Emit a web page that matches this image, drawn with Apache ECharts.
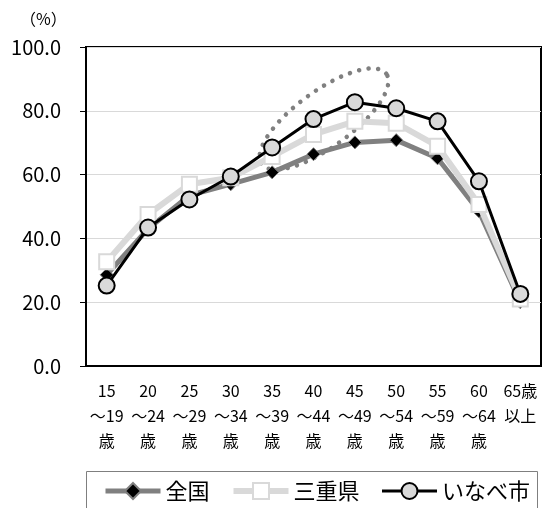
<!DOCTYPE html>
<html><head><meta charset="utf-8">
<script src="https://cdn.jsdelivr.net/npm/echarts@6/dist/echarts.min.js"></script>
<style>html,body{margin:0;padding:0;background:#fff}#c{width:546px;height:508px}</style>
</head><body><div id="c"></div>
<script>
var categories = ['15\n〜19\n歳','20\n〜24\n歳','25\n〜29\n歳','30\n〜34\n歳','35\n〜39\n歳','40\n〜44\n歳','45\n〜49\n歳','50\n〜54\n歳','55\n〜59\n歳','60\n〜64\n歳','65歳\n以上'];
var zenkoku = [28.6, 43.0, 53.5, 57.0, 60.7, 66.4, 70.1, 70.8, 65.1, 48.5, 20.0];
var mie     = [32.7, 47.5, 57.0, 59.0, 65.7, 72.6, 76.7, 76.1, 68.9, 50.6, 21.0];
var inabe   = [25.2, 43.4, 52.2, 59.4, 68.5, 77.4, 82.7, 80.8, 76.7, 57.9, 22.6];
var yTicks = [0, 20, 40, 60, 80, 100];

var FONT = '"Noto Sans CJK JP", sans-serif';
// dotted annotation ellipse (decoration)
var ell = [];
(function(){
  var cx = 324, cy = 119, rx = 77, ry = 28, th = 36 * Math.PI / 180;
  for (var i = 0; i < 72; i++) {
    var t = i / 72 * Math.PI * 2;
    var a = rx * Math.cos(t), b = ry * Math.sin(t);
    ell.push([cx + a * Math.cos(th) - b * Math.sin(th), cy - (a * Math.sin(th) + b * Math.cos(th))]);
  }
})();

var chart = echarts.init(document.getElementById('c'));
chart.setOption({
  animation: false,
  textStyle: {fontFamily: FONT},
  title: {text: '（%）', left: 15, top: 6, textStyle: {fontSize: 16, fontWeight: 'normal', color: '#000', fontFamily: '"Noto Sans CJK JP"'}},
  grid: {left: 86, right: 5, top: 47, bottom: 142, show: true, borderColor: '#000', borderWidth: 2},
  xAxis: {
    type: 'category', data: categories, boundaryGap: true,
    axisLine: {lineStyle: {color: '#000', width: 2}},
    axisTick: {inside: true, length: 5, lineStyle: {color: '#808080'}},
    axisLabel: {fontSize: 16, lineHeight: 25, color: '#000', margin: 12, interval: 0, fontFamily: FONT}
  },
  yAxis: {
    type: 'value', min: 0, max: 100, interval: 20,
    axisLine: {show: true, lineStyle: {color: '#000', width: 2}},
    axisTick: {show: true, length: 6, lineStyle: {color: '#000'}},
    splitLine: {lineStyle: {color: '#d9d9d9', width: 1}},
    axisLabel: {fontSize: 20, color: '#000', margin: 25, fontFamily: FONT,
      formatter: function(v){ return yTicks.indexOf(v) >= 0 ? v.toFixed(1) : ''; }}
  },
  legend: {
    left: 103, top: 480, padding: 0, itemGap: 21, itemWidth: 55, itemHeight: 20,
    textStyle: {fontSize: 22, color: '#000', fontFamily: FONT},
    data: [
      {name: '全国', lineStyle: {width: 5, color: '#808080'}},
      {name: '三重県', lineStyle: {width: 6, color: '#d9d9d9'}},
      {name: 'いなべ市', lineStyle: {width: 3, color: '#000'}}
    ]
  },
  graphic: [
    {type: 'rect', shape: {x: 86.5, y: 471.5, width: 451, height: 60}, style: {fill: 'none', stroke: '#7f7f7f', lineWidth: 1}, z: 0},
    {type: 'polygon', shape: {points: ell}, style: {fill: 'none', stroke: '#808080', lineWidth: 4.5, lineDash: [0.1, 9.5], lineCap: 'round'}, z: 1}
  ],
  series: [
    {name: '全国', type: 'line', data: zenkoku, z: 2,
     lineStyle: {color: '#808080', width: 5},
     symbol: 'diamond', symbolSize: 13,
     itemStyle: {color: '#000', borderColor: '#808080', borderWidth: 1}},
    {name: '三重県', type: 'line', data: mie, z: 3,
     lineStyle: {color: '#d9d9d9', width: 6},
     symbol: 'rect', symbolSize: 15,
     itemStyle: {color: '#fff', borderColor: '#d9d9d9', borderWidth: 2}},
    {name: 'いなべ市', type: 'line', data: inabe, z: 4,
     lineStyle: {color: '#000', width: 3},
     symbol: 'circle', symbolSize: 16,
     itemStyle: {color: '#d9d9d9', borderColor: '#000', borderWidth: 2}}
  ]
});
</script></body></html>
